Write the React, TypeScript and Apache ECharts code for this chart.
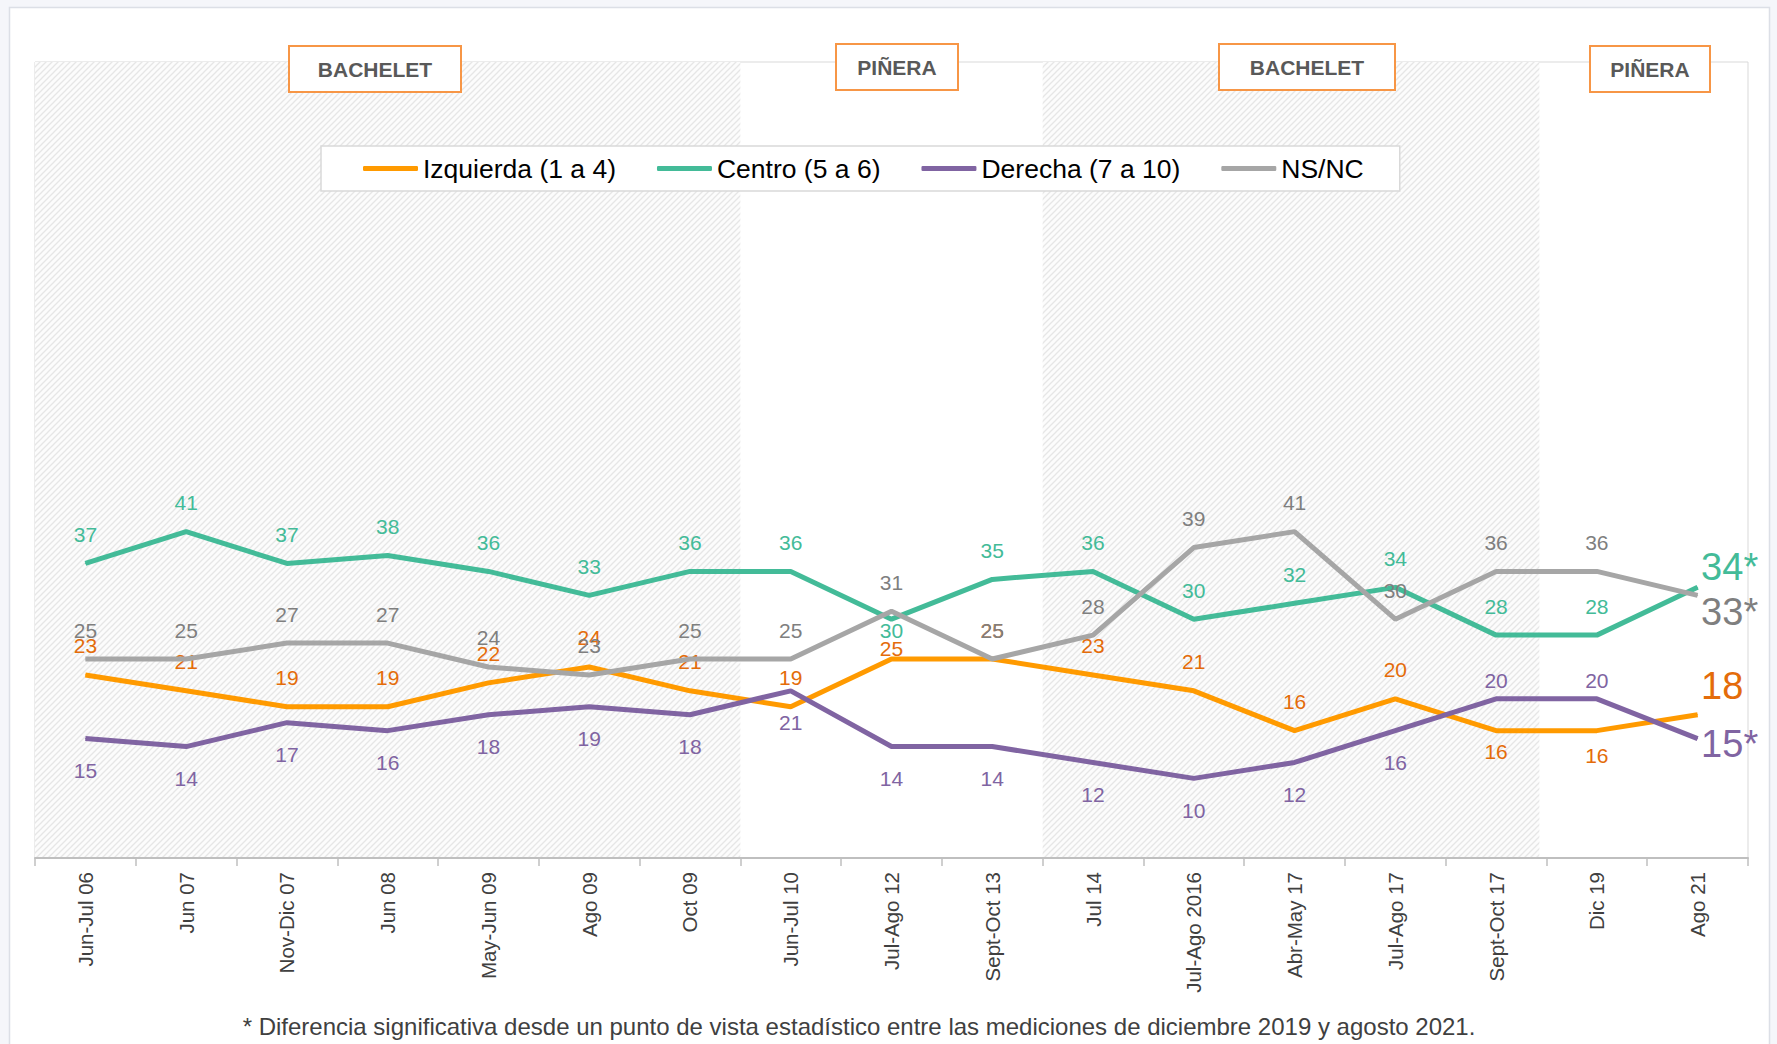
import React, { useEffect, useRef } from "react";
import * as echarts from "echarts";

const categories = [
  "Jun-Jul 06", "Jun 07", "Nov-Dic 07", "Jun 08", "May-Jun 09", "Ago 09", "Oct 09",
  "Jun-Jul 10", "Jul-Ago 12", "Sept-Oct 13", "Jul 14", "Jul-Ago 2016", "Abr-May 17",
  "Jul-Ago 17", "Sept-Oct 17", "Dic 19", "Ago 21",
];
const izquierda = [23, 21, 19, 19, 22, 24, 21, 19, 25, 25, 23, 21, 16, 20, 16, 16, 18];
const centro = [37, 41, 37, 38, 36, 33, 36, 36, 30, 35, 36, 30, 32, 34, 28, 28, 34];
const derecha = [15, 14, 17, 16, 18, 19, 18, 21, 14, 14, 12, 10, 12, 16, 20, 20, 15];
const nsnc = [25, 25, 27, 27, 24, 23, 25, 25, 31, 25, 28, 39, 41, 30, 36, 36, 33];
const seriesNames = ["Izquierda (1 a 4)", "Centro (5 a 6)", "Derecha (7 a 10)", "NS/NC"];
const endLabels = ["18", "34*", "15*", "33*"];
const periodNames = ["BACHELET", "PIÑERA", "BACHELET", "PIÑERA"];
const footnote =
  "* Diferencia significativa desde un punto de vista estadístico entre las mediciones de diciembre 2019 y agosto 2021.";

const NARROW = '"Liberation Sans Narrow", "Arial Narrow", "Liberation Sans", Arial, sans-serif';
const SANS = '"Liberation Sans", Arial, sans-serif';

function makePattern() {
  const c = document.createElement("canvas");
  c.width = 6;
  c.height = 6;
  const ctx = c.getContext("2d")!;
  ctx.fillStyle = "#fcfcfc";
  ctx.fillRect(0, 0, 6, 6);
  ctx.strokeStyle = "#e6e6e6";
  ctx.lineWidth = 1.3;
  ctx.beginPath();
  ctx.moveTo(-1, 7); ctx.lineTo(7, -1);
  ctx.moveTo(-1, 1); ctx.lineTo(1, -1);
  ctx.moveTo(5, 7); ctx.lineTo(7, 5);
  ctx.stroke();
  return c.toDataURL();
}

type Ov = { pos: string; dist: number };

function buildData(
  values: number[], defPos: string, defDist: number, ov: Record<number, Ov>,
  endText: string, endDy: number, color: string
) {
  return values.map((v, i) => {
    if (i === values.length - 1) {
      return {
        value: v,
        label: {
          show: true, position: "right", distance: 3, offset: [0, endDy],
          fontSize: 38, color, fontFamily: NARROW, formatter: endText,
        },
      };
    }
    const o = ov[i];
    return {
      value: v,
      label: { position: o ? o.pos : defPos, distance: o ? o.dist : defDist },
    };
  });
}

export default function App() {
  const ref = useRef<HTMLDivElement>(null);
  useEffect(() => {
    if (!ref.current) return;
    const chart = echarts.init(ref.current, undefined, { renderer: "svg" });
    const pattern = makePattern();

    const colors = ["#ff9a00", "#43bb98", "#8064a2", "#a6a6a6"];
    const labelColors = ["#e46c0a", "#43bb98", "#8064a2", "#7f7f7f"];
    const vals = [izquierda, centro, derecha, nsnc];
    const defs: [string, number, Record<number, Ov>, number][] = [
      ["top", 18, { 8: { pos: "top", dist: 0 }, 14: { pos: "bottom", dist: 10 }, 15: { pos: "bottom", dist: 14 } }, -29],
      ["top", 18, { 8: { pos: "bottom", dist: 0 } }, -20],
      ["bottom", 21, { 14: { pos: "top", dist: 7 }, 15: { pos: "top", dist: 7 } }, 5],
      ["top", 18, {}, 17],
    ];

    const series: any[] = vals.map((v, k) => ({
      type: "line",
      name: seriesNames[k],
      data: buildData(v, defs[k][0], defs[k][1], defs[k][2], endLabels[k], defs[k][3], labelColors[k]),
      symbol: "circle",
      symbolSize: 1,
      lineStyle: { width: 5, color: colors[k] },
      itemStyle: { color: colors[k] },
      label: {
        show: true, fontSize: 21, color: labelColors[k], fontFamily: NARROW,
      },
      z: 3 + k,
    }));

    series.push({
      type: "line",
      name: "hatch",
      xAxisIndex: 1,
      data: [],
      silent: true,
      markArea: {
        silent: true,
        itemStyle: {
          color: { image: pattern, repeat: "repeat", imageWidth: 6, imageHeight: 6 } as any,
        },
        label: { show: false },
        data: [
          [{ xAxis: 0 }, { xAxis: 7 }],
          [{ xAxis: 10 }, { xAxis: 14.93 }],
        ],
      },
      z: 1,
    });

    const boxes = [
      { x: 289, y: 46, w: 172, h: 46 },
      { x: 836, y: 44, w: 122, h: 46 },
      { x: 1219, y: 44, w: 176, h: 46 },
      { x: 1590, y: 46, w: 120, h: 46 },
    ];
    const graphics: any[] = [
      {
        type: "rect", z: -10, silent: true,
        shape: { x: 9.5, y: 7.5, width: 1760, height: 1100 },
        style: { fill: "#ffffff", stroke: "#dcdfe6", lineWidth: 1.5 },
      },
    ];
    boxes.forEach((b, i) => {
      graphics.push({
        type: "rect", z: 50,
        shape: { x: b.x, y: b.y, width: b.w, height: b.h },
        style: { fill: "#ffffff", stroke: "#f79646", lineWidth: 2 },
      });
      graphics.push({
        type: "text", z: 51,
        x: b.x + b.w / 2, y: b.y + b.h / 2,
        style: {
          text: periodNames[i], fill: "#595959", fontSize: 21, fontWeight: "bold",
          fontFamily: NARROW, align: "center", verticalAlign: "middle",
        },
      });
    });
    graphics.push({
      type: "text", z: 51,
      x: 859, y: 1026,
      style: {
        text: footnote, fill: "#404040", fontSize: 24, fontFamily: NARROW,
        align: "center", verticalAlign: "middle",
      },
    });

    chart.setOption({
      animation: false,
      backgroundColor: "#f5f6fa",
      grid: {
        left: 35, right: 29, top: 62, bottom: 186,
        show: true, borderColor: "#d9d9d9", borderWidth: 1,
        backgroundColor: "transparent",
      },
      legend: {
        data: seriesNames,
        left: 321, top: 146,
        padding: [9, 36, 9, 42],
        itemGap: 41,
        itemWidth: 55, itemHeight: 5,
        icon: "roundRect",
        borderColor: "#d9d9d9", borderWidth: 1.5,
        backgroundColor: "#ffffff",
        textStyle: { fontSize: 26.5, color: "#000000", fontFamily: NARROW },
        z: 20,
      },
      xAxis: [
        {
          type: "category",
          data: categories,
          boundaryGap: true,
          axisLine: { lineStyle: { color: "#bfbfbf", width: 2 } },
          axisTick: { show: true, length: 8, lineStyle: { color: "#bfbfbf", width: 1.5 } },
          axisLabel: {
            rotate: 90, fontSize: 20.5, color: "#404040", fontFamily: SANS, margin: 14,
            interval: 0,
          },
          z: 10,
        },
        {
          type: "value", min: 0, max: 17, show: false,
        },
      ],
      yAxis: {
        type: "value", min: 0, max: 100, show: false,
        splitLine: { show: false },
      },
      series,
      graphic: graphics,
    });
    return () => chart.dispose();
  }, []);
  return (
    <div
      ref={ref}
      style={{ position: "fixed", left: 0, top: 0, width: 1777, height: 1044 }}
    />
  );
}
